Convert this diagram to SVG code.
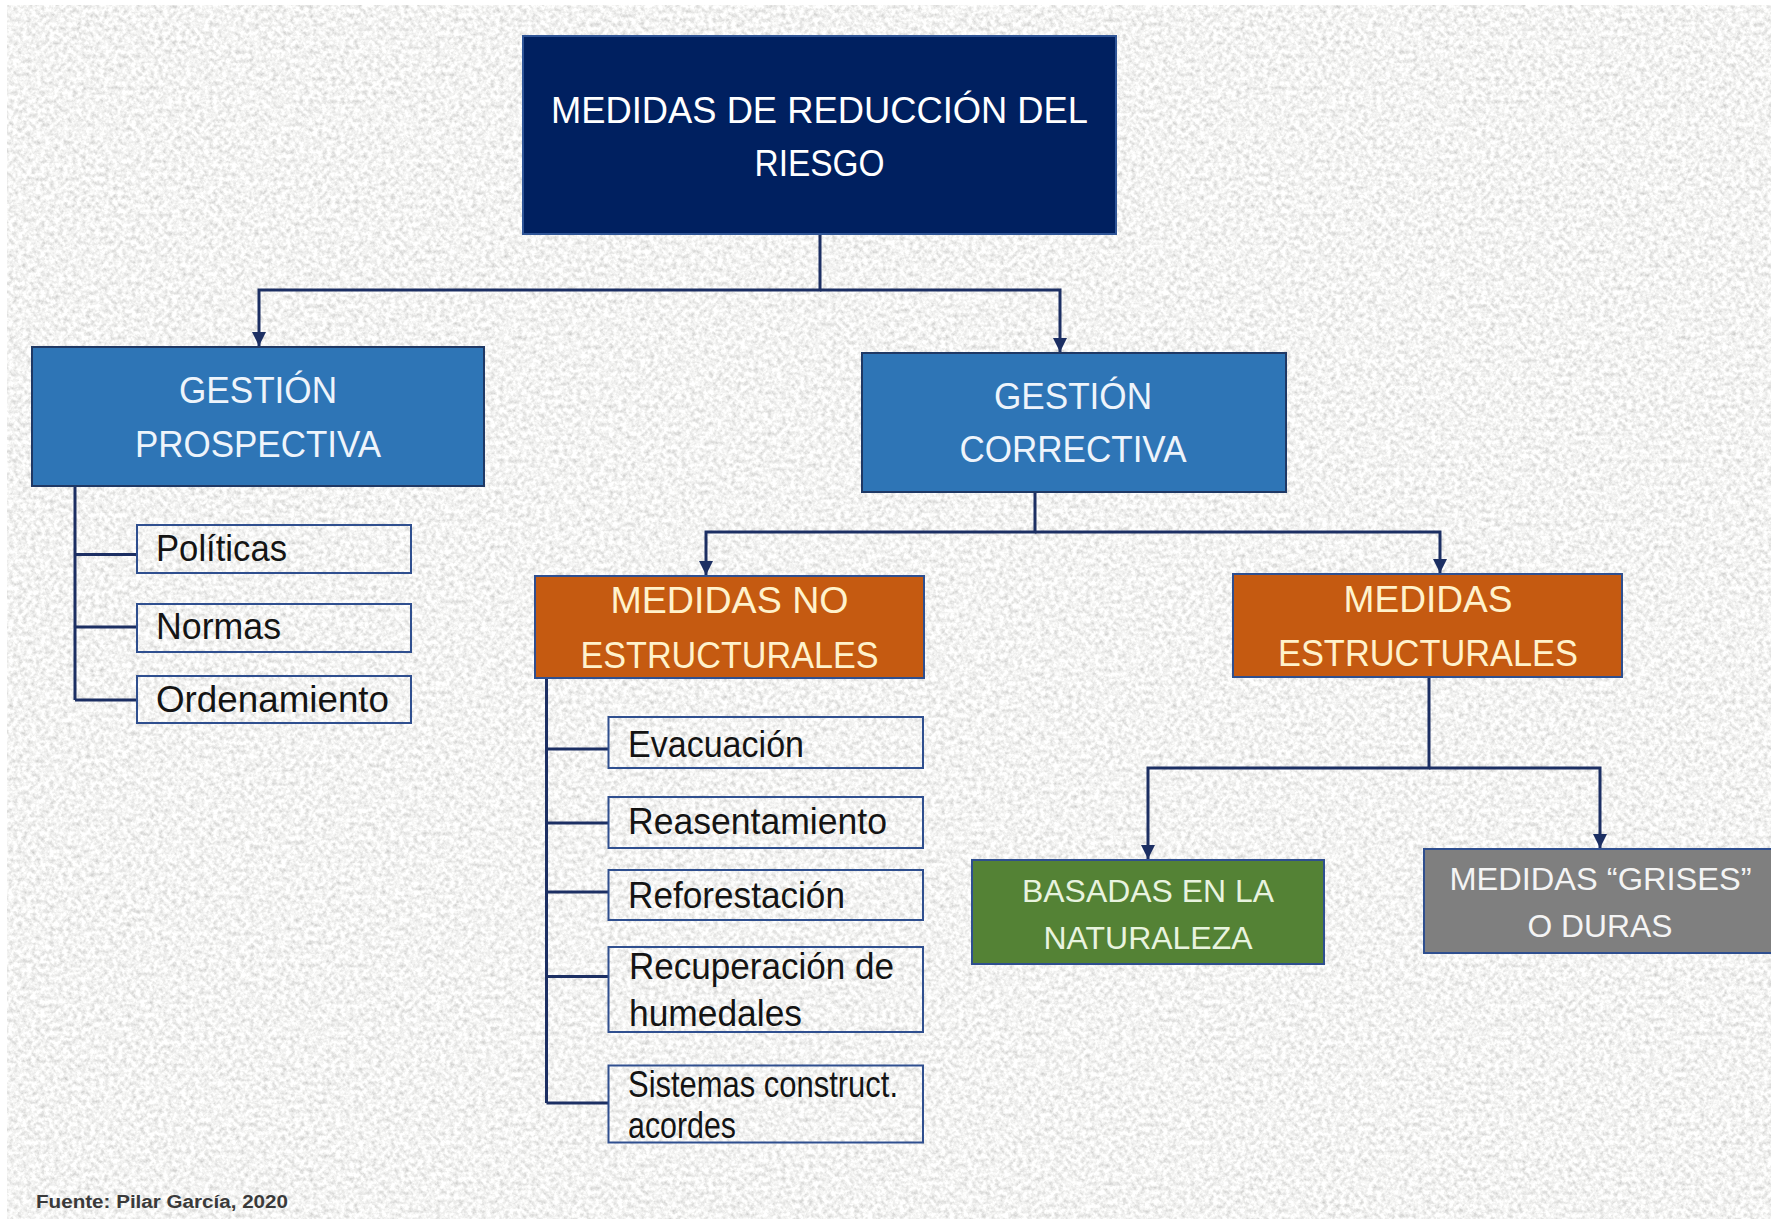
<svg xmlns="http://www.w3.org/2000/svg" width="1771" height="1219" viewBox="0 0 1771 1219">
  <defs>
    <filter id="paper" x="0" y="0" width="100%" height="100%" filterUnits="objectBoundingBox">
      <feTurbulence type="fractalNoise" baseFrequency="0.22" numOctaves="4" seed="7" result="t"/>
      <feColorMatrix in="t" type="matrix" values="0.7 0 0 0 0.55  0.7 0 0 0 0.55  0.7 0 0 0 0.54  0 0 0 0 1"/>
    </filter>
    <marker id="arrow" markerUnits="userSpaceOnUse" markerWidth="14" markerHeight="14" refX="14" refY="7" orient="auto">
      <path d="M0,0 L14,7 L0,14 z" fill="#1c2f63"/>
    </marker>
    <style>
      text { font-family: "Liberation Sans", Arial, sans-serif; }
      .conn { fill: none; stroke: #1c2f63; stroke-width: 3; }
      .arr { marker-end: url(#arrow); }
      .hdr { font-size: 36px; text-anchor: middle; }
      .sm { font-size: 32px; text-anchor: middle; }
      .item { fill: none; stroke: #2f4f8f; stroke-width: 2; }
      .itxt { font-size: 36px; fill: #141414; }
      .top { fill: #002060; stroke: #2f5597; stroke-width: 2; }
      .blue { fill: #2e75b6; stroke: #1f3864; stroke-width: 2; }
      .orange { fill: #c55a11; stroke: #2f4f8f; stroke-width: 2; }
      .green { fill: #548235; stroke: #2f4f8f; stroke-width: 2; }
      .gray { fill: #7f7f7f; stroke: #2f4f8f; stroke-width: 2; }
    </style>
  </defs>

  <rect x="0" y="0" width="1771" height="1219" fill="#ffffff"/>
  <rect x="7" y="5" width="1764" height="1214" fill="#e6e6e4" filter="url(#paper)"/>

  <g id="connectors">
    <path class="conn arr" d="M820,234 V290 H259 V346"/>
    <path class="conn arr" d="M820,290 H1060 V352"/>
    <path class="conn" d="M75,486 V700 M75,554.5 H137 M75,627 H137 M75,700 H137"/>
    <path class="conn arr" d="M1035,492 V532 H706 V575"/>
    <path class="conn arr" d="M1035,532 H1440 V573"/>
    <path class="conn" d="M546.5,678 V1103 M546.5,749 H608.5 M546.5,823 H608.5 M546.5,892 H608.5 M546.5,976.5 H608.5 M546.5,1103 H608.5"/>
    <path class="conn arr" d="M1429,677 V768 H1148 V859"/>
    <path class="conn arr" d="M1429,768 H1600 V848"/>
  </g>

  <g id="node-medidas-reduccion">
    <rect class="top" x="523" y="36" width="593" height="198"/>
    <text class="hdr" x="819.5" y="123" fill="#ffffff" font-size="37" textLength="537" lengthAdjust="spacingAndGlyphs">MEDIDAS DE REDUCCIÓN DEL</text>
    <text class="hdr" x="819.5" y="176" fill="#ffffff" font-size="37" textLength="130" lengthAdjust="spacingAndGlyphs">RIESGO</text>
  </g>

  <g id="node-gestion-prospectiva">
    <rect class="blue" x="32" y="347" width="452" height="139"/>
    <text class="hdr" x="258" y="403" fill="#eef4fb" textLength="158" lengthAdjust="spacingAndGlyphs">GESTIÓN</text>
    <text class="hdr" x="258" y="457" fill="#eef4fb" textLength="246" lengthAdjust="spacingAndGlyphs">PROSPECTIVA</text>
  </g>

  <g id="node-politicas">
    <rect class="item" x="137" y="525" width="274" height="48"/>
    <text class="itxt" x="156" y="561" textLength="131" lengthAdjust="spacingAndGlyphs">Políticas</text>
  </g>
  <g id="node-normas">
    <rect class="item" x="137" y="604" width="274" height="48"/>
    <text class="itxt" x="156" y="638.5" textLength="125" lengthAdjust="spacingAndGlyphs">Normas</text>
  </g>
  <g id="node-ordenamiento">
    <rect class="item" x="137" y="676" width="274" height="47"/>
    <text class="itxt" x="156" y="712" textLength="233" lengthAdjust="spacingAndGlyphs">Ordenamiento</text>
  </g>

  <g id="node-gestion-correctiva">
    <rect class="blue" x="862" y="353" width="424" height="139"/>
    <text class="hdr" x="1073" y="409" fill="#eef4fb" textLength="158" lengthAdjust="spacingAndGlyphs">GESTIÓN</text>
    <text class="hdr" x="1073" y="462" fill="#eef4fb" textLength="227" lengthAdjust="spacingAndGlyphs">CORRECTIVA</text>
  </g>

  <g id="node-medidas-no-estructurales">
    <rect class="orange" x="535" y="576" width="389" height="102"/>
    <text class="hdr" x="729.5" y="613" fill="#fff2cc" textLength="238" lengthAdjust="spacingAndGlyphs">MEDIDAS NO</text>
    <text class="hdr" x="729.5" y="668" fill="#fff2cc" textLength="298" lengthAdjust="spacingAndGlyphs">ESTRUCTURALES</text>
  </g>

  <g id="node-evacuacion">
    <rect class="item" x="608.5" y="717" width="314.5" height="51"/>
    <text class="itxt" x="628" y="757" textLength="176" lengthAdjust="spacingAndGlyphs">Evacuación</text>
  </g>
  <g id="node-reasentamiento">
    <rect class="item" x="608.5" y="797" width="314.5" height="51"/>
    <text class="itxt" x="628" y="834" textLength="259" lengthAdjust="spacingAndGlyphs">Reasentamiento</text>
  </g>
  <g id="node-reforestacion">
    <rect class="item" x="608.5" y="870" width="314.5" height="50"/>
    <text class="itxt" x="628" y="908" textLength="217" lengthAdjust="spacingAndGlyphs">Reforestación</text>
  </g>
  <g id="node-recuperacion">
    <rect class="item" x="608.5" y="947" width="314.5" height="85"/>
    <text class="itxt" x="629" y="979" textLength="265" lengthAdjust="spacingAndGlyphs">Recuperación de</text>
    <text class="itxt" x="629" y="1026" textLength="173" lengthAdjust="spacingAndGlyphs">humedales</text>
  </g>
  <g id="node-sistemas">
    <rect class="item" x="608.5" y="1065.5" width="314.5" height="77"/>
    <text class="itxt" x="628" y="1097" font-size="31" textLength="270" lengthAdjust="spacingAndGlyphs">Sistemas construct.</text>
    <text class="itxt" x="628" y="1138" font-size="31" textLength="108" lengthAdjust="spacingAndGlyphs">acordes</text>
  </g>

  <g id="node-medidas-estructurales">
    <rect class="orange" x="1233" y="574" width="389" height="103"/>
    <text class="hdr" x="1428" y="612" fill="#fff2cc" textLength="169" lengthAdjust="spacingAndGlyphs">MEDIDAS</text>
    <text class="hdr" x="1428" y="666" fill="#fff2cc" textLength="300" lengthAdjust="spacingAndGlyphs">ESTRUCTURALES</text>
  </g>

  <g id="node-basadas-naturaleza">
    <rect class="green" x="972" y="860" width="352" height="104"/>
    <text class="sm" x="1148" y="902" fill="#e8f3df" textLength="252" lengthAdjust="spacingAndGlyphs">BASADAS EN LA</text>
    <text class="sm" x="1148" y="949" fill="#e8f3df" textLength="209" lengthAdjust="spacingAndGlyphs">NATURALEZA</text>
  </g>

  <g id="node-medidas-grises">
    <rect class="gray" x="1424" y="849" width="360" height="104"/>
    <text class="sm" x="1600.5" y="890" fill="#f4f4f4" textLength="302" lengthAdjust="spacingAndGlyphs">MEDIDAS “GRISES”</text>
    <text class="sm" x="1600" y="937" fill="#f4f4f4" textLength="145" lengthAdjust="spacingAndGlyphs">O DURAS</text>
  </g>

  <text x="36" y="1208" font-size="18" font-weight="bold" fill="#3a3a3a" textLength="252" lengthAdjust="spacingAndGlyphs">Fuente: Pilar García, 2020</text>
</svg>
